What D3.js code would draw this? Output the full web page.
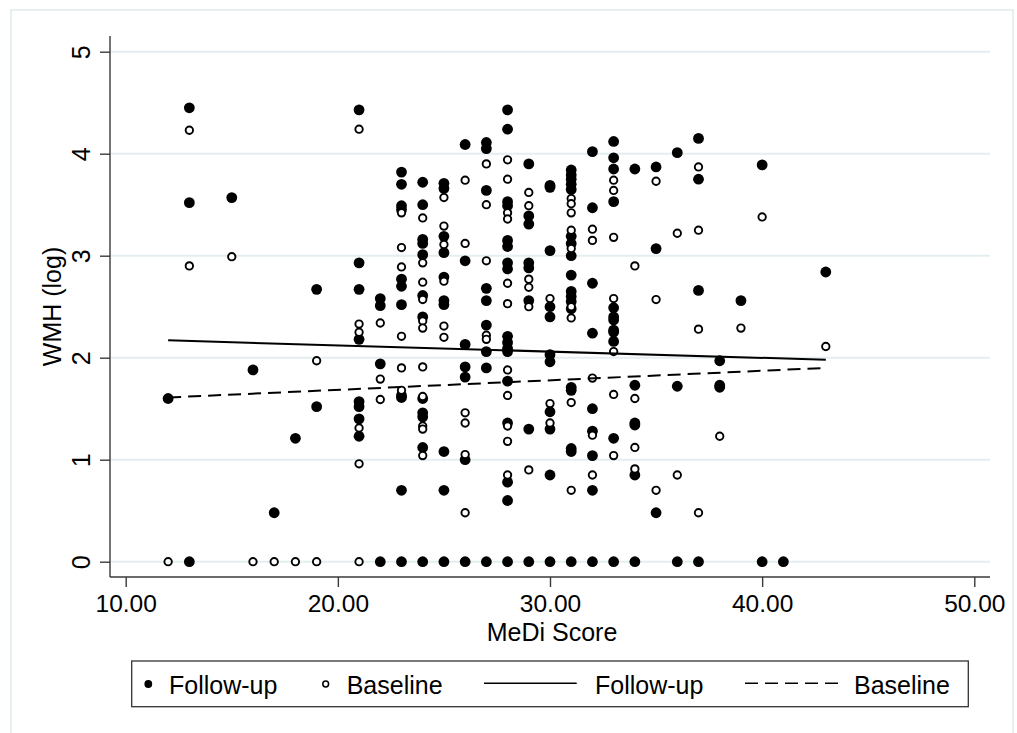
<!DOCTYPE html>
<html>
<head>
<meta charset="utf-8">
<script src="https://cdn.jsdelivr.net/npm/d3@7"></script>
<style>
  body { margin: 0; background: #fff; }
  text { font-family: "Liberation Sans", Arial, sans-serif; fill: #000; }
</style>
</head>
<body>
<div id="chart"></div>
<script>
// MeDi score vs WMH (log), follow-up = filled, baseline = hollow
var followUp = [
  [12,1.60],
  [13,4.45],[13,3.52],[13,0],
  [15,3.57],[16,1.88],[17,0.48],[18,1.21],
  [19,2.67],[19,1.52],
  [21,4.43],[21,2.93],[21,2.67],[21,2.18],[21,1.57],[21,1.52],[21,1.40],[21,1.23],
  [22,2.58],[22,2.51],[22,1.94],[22,0],
  [23,3.82],[23,3.70],[23,3.49],[23,3.45],[23,2.77],[23,2.70],[23,2.52],[23,1.63],[23,1.61],[23,0.70],[23,0],
  [24,3.72],[24,3.50],[24,3.16],[24,3.12],[24,3.01],[24,2.61],[24,2.40],[24,1.60],[24,1.46],[24,1.42],[24,1.12],[24,0],
  [25,3.71],[25,3.66],[25,3.19],[25,3.03],[25,2.79],[25,2.56],[25,2.52],[25,1.08],[25,0.70],[25,0],
  [26,4.09],[26,2.95],[26,2.13],[26,1.91],[26,1.81],[26,1.00],[26,0],
  [27,4.11],[27,4.05],[27,3.64],[27,2.68],[27,2.56],[27,2.32],[27,2.06],[27,1.90],[27,0],
  [28,4.43],[28,4.24],[28,3.53],[28,3.49],[28,3.15],[28,3.09],[28,2.93],[28,2.87],[28,2.21],[28,2.15],[28,2.09],[28,2.06],[28,1.77],[28,1.36],[28,0.78],[28,0.60],[28,0],
  [29,3.90],[29,3.39],[29,3.31],[29,2.93],[29,2.88],[29,2.56],[29,1.30],[29,0],
  [30,3.69],[30,3.67],[30,3.05],[30,2.50],[30,2.40],[30,2.03],[30,1.96],[30,1.47],[30,1.30],[30,0.85],[30,0],
  [31,3.84],[31,3.79],[31,3.75],[31,3.70],[31,3.65],[31,3.19],[31,3.12],[31,3.00],[31,2.81],[31,2.65],[31,2.60],[31,2.55],[31,2.48],[31,1.71],[31,1.68],[31,1.11],[31,1.08],[31,0],
  [32,4.02],[32,3.47],[32,2.73],[32,2.24],[32,1.50],[32,1.28],[32,1.04],[32,0.70],[32,0],
  [33,4.12],[33,3.96],[33,3.85],[33,3.53],[33,2.49],[33,2.40],[33,2.37],[33,2.27],[33,2.25],[33,2.16],[33,1.21],[33,0],
  [34,3.85],[34,1.73],[34,1.36],[34,1.34],[34,0.85],[34,0],
  [35,3.87],[35,3.07],[35,0.48],
  [36,4.01],[36,1.72],[36,0],
  [37,4.15],[37,3.75],[37,2.66],[37,0],
  [38,1.97],[38,1.73],[38,1.71],
  [39,2.56],
  [40,3.89],[40,0],
  [41,0],
  [43,2.84]
];

var baseline = [
  [12,0],
  [13,4.23],[13,2.90],
  [15,2.99],[16,0],[17,0],[18,0],
  [19,1.97],[19,0],
  [21,4.24],[21,2.33],[21,2.25],[21,1.31],[21,0.96],[21,0],
  [22,2.34],[22,1.79],[22,1.59],
  [23,3.42],[23,3.08],[23,2.89],[23,2.21],[23,1.90],[23,1.68],
  [24,3.37],[24,2.93],[24,2.74],[24,2.57],[24,2.36],[24,2.29],[24,1.91],[24,1.62],[24,1.33],[24,1.30],[24,1.04],
  [25,3.57],[25,3.29],[25,3.11],[25,2.75],[25,2.31],[25,2.20],
  [26,3.74],[26,3.12],[26,1.46],[26,1.36],[26,1.05],[26,0.48],
  [27,3.90],[27,3.50],[27,2.95],[27,2.22],[27,2.18],
  [28,3.94],[28,3.75],[28,3.42],[28,3.36],[28,2.73],[28,2.53],[28,1.88],[28,1.63],[28,1.33],[28,1.18],[28,0.85],
  [29,3.62],[29,3.49],[29,2.77],[29,2.69],[29,2.50],[29,0.90],
  [30,2.58],[30,1.55],[30,1.36],
  [31,3.56],[31,3.51],[31,3.42],[31,3.25],[31,3.07],[31,2.50],[31,2.39],[31,1.56],[31,0.70],
  [32,3.26],[32,3.15],[32,1.80],[32,1.24],[32,0.85],
  [33,3.74],[33,3.64],[33,3.18],[33,2.58],[33,2.06],[33,1.64],[33,1.04],
  [34,2.90],[34,1.60],[34,1.12],[34,0.91],
  [35,3.73],[35,2.57],[35,0.70],
  [36,3.22],[36,0.85],
  [37,3.87],[37,3.25],[37,2.28],[37,0.48],
  [38,1.23],
  [39,2.29],
  [40,3.38],
  [43,2.11]
];

// linear fit end points
var fitScore = [12, 43];
var fitFollowUp = [2.17, 1.98];
var fitBaseline = [1.61, 1.90];

var xTicks = [10, 20, 30, 40, 50];
var yTicks = [0, 1, 2, 3, 4, 5];

var width = 1017, height = 733;
var plot = { left: 110, right: 990, top: 36, bottom: 577 };

var svg = d3.select("#chart").append("svg")
  .attr("width", width)
  .attr("height", height);

// outer graph region frame
svg.append("rect")
  .attr("x", 11).attr("y", 10)
  .attr("width", 1002).attr("height", 740)
  .attr("fill", "none")
  .attr("stroke", "#e1eaed")
  .attr("stroke-width", 1.5);

var x = d3.scaleLinear().domain([10, 50]).range([125.7, 974.3]);
var y = d3.scaleLinear().domain([0, 5]).range([561.7, 51.7]);

// grid
svg.append("g").selectAll("line")
  .data(yTicks)
  .join("line")
  .attr("x1", plot.left).attr("x2", plot.right)
  .attr("y1", function(d) { return y(d); })
  .attr("y2", function(d) { return y(d); })
  .attr("stroke", "#e4eef0")
  .attr("stroke-width", 2);

// axes
var axisColor = "#3a3a3a";
svg.append("line")
  .attr("x1", plot.left).attr("x2", plot.left)
  .attr("y1", plot.top).attr("y2", plot.bottom)
  .attr("stroke", axisColor).attr("stroke-width", 1.4);
svg.append("line")
  .attr("x1", plot.left).attr("x2", plot.right)
  .attr("y1", plot.bottom).attr("y2", plot.bottom)
  .attr("stroke", axisColor).attr("stroke-width", 1.4);

var yAxis = svg.append("g")
  .attr("transform", "translate(" + plot.left + ",0)")
  .call(d3.axisLeft(y).tickValues(yTicks).tickSize(10).tickSizeOuter(0).tickFormat(d3.format("d")));
yAxis.select(".domain").remove();
yAxis.selectAll(".tick line").attr("stroke", axisColor).attr("stroke-width", 1.4);
yAxis.selectAll(".tick text")
  .attr("x", null).attr("dy", null)
  .attr("text-anchor", "middle")
  .attr("transform", "translate(-20,0) rotate(-90)")
  .style("font-size", "25px")
  .style("font-family", "'Liberation Sans', Arial, sans-serif")
  .attr("fill", "#000");

var xAxis = svg.append("g")
  .attr("transform", "translate(0," + plot.bottom + ")")
  .call(d3.axisBottom(x).tickValues(xTicks).tickSize(10).tickSizeOuter(0).tickFormat(d3.format(".2f")));
xAxis.select(".domain").remove();
xAxis.selectAll(".tick line").attr("stroke", axisColor).attr("stroke-width", 1.4);
xAxis.selectAll(".tick text")
  .attr("y", 35).attr("dy", null)
  .style("font-size", "24.5px")
  .style("font-family", "'Liberation Sans', Arial, sans-serif")
  .attr("fill", "#000");

// axis titles
svg.append("text")
  .attr("x", (plot.left + plot.right) / 2 + 2)
  .attr("y", 641)
  .attr("text-anchor", "middle")
  .style("font-size", "25px")
  .text("MeDi Score");

svg.append("text")
  .attr("transform", "translate(61," + ((plot.top + plot.bottom) / 2) + ") rotate(-90)")
  .attr("text-anchor", "middle")
  .style("font-size", "25px")
  .text("WMH (log)");

// points
svg.append("g").selectAll("circle")
  .data(followUp)
  .join("circle")
  .attr("cx", function(d) { return x(d[0]); })
  .attr("cy", function(d) { return y(d[1]); })
  .attr("r", 5.4)
  .attr("fill", "#000");

svg.append("g").selectAll("circle")
  .data(baseline)
  .join("circle")
  .attr("cx", function(d) { return x(d[0]); })
  .attr("cy", function(d) { return y(d[1]); })
  .attr("r", 3.7)
  .attr("fill", "#fff")
  .attr("stroke", "#000")
  .attr("stroke-width", 1.9);

// fit lines
var line = d3.line()
  .x(function(d) { return x(d[0]); })
  .y(function(d) { return y(d[1]); });

svg.append("path")
  .datum(d3.zip(fitScore, fitFollowUp))
  .attr("d", line)
  .attr("fill", "none")
  .attr("stroke", "#000")
  .attr("stroke-width", 2);

svg.append("path")
  .datum(d3.zip(fitScore, fitBaseline))
  .attr("d", line)
  .attr("fill", "none")
  .attr("stroke", "#000")
  .attr("stroke-width", 2)
  .attr("stroke-dasharray", "13,7");

// legend
var legend = svg.append("g");
legend.append("rect")
  .attr("x", 131.7).attr("y", 661)
  .attr("width", 836.6).attr("height", 45.7)
  .attr("fill", "#fff")
  .attr("stroke", "#333")
  .attr("stroke-width", 1.3);

var ly = 684, ty = 693.5;
legend.append("circle").attr("cx", 148.3).attr("cy", ly).attr("r", 3.9).attr("fill", "#000");
legend.append("text").attr("x", 169).attr("y", ty).style("font-size", "25px").text("Follow-up");
legend.append("circle").attr("cx", 325.7).attr("cy", ly).attr("r", 2.9)
  .attr("fill", "#fff").attr("stroke", "#000").attr("stroke-width", 1.5);
legend.append("text").attr("x", 346.7).attr("y", ty).style("font-size", "25px").text("Baseline");
legend.append("line").attr("x1", 484).attr("x2", 576.7).attr("y1", 683.3).attr("y2", 683.3)
  .attr("stroke", "#000").attr("stroke-width", 1.6);
legend.append("text").attr("x", 595).attr("y", ty).style("font-size", "25px").text("Follow-up");
legend.append("line").attr("x1", 745).attr("x2", 838.3).attr("y1", 683.3).attr("y2", 683.3)
  .attr("stroke", "#000").attr("stroke-width", 1.6).attr("stroke-dasharray", "13,7");
legend.append("text").attr("x", 854).attr("y", ty).style("font-size", "25px").text("Baseline");
</script>
</body>
</html>
